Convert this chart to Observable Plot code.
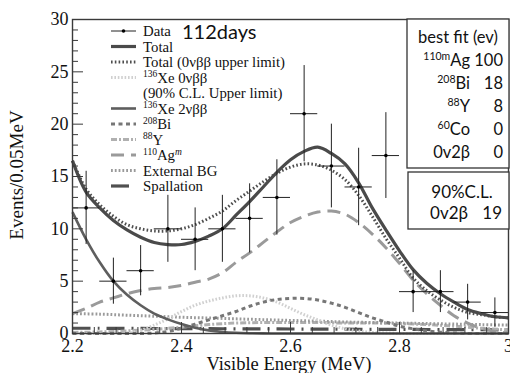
<!DOCTYPE html>
<html><head><meta charset="utf-8">
<script src="https://cdn.jsdelivr.net/npm/d3@7"></script>
<script src="https://cdn.jsdelivr.net/npm/@observablehq/plot@0.6"></script>
<style>
body{margin:0;background:#fff;}
#chart{width:510px;height:373px;}
svg{overflow:visible;}
</style></head><body><div id="chart"></div>
<script>
// ---- data ----
const binCenters = [2.225,2.275,2.325,2.375,2.425,2.475,2.525,2.575,2.625,2.675,2.725,2.775,2.825,2.875,2.925,2.975];
const counts     = [12,5,6,10,9,10,11,13,21,16,14,17,4,4,3,2];
const countErr   = [3.5,2.2,2.4,3.2,3.0,3.2,3.3,3.6,4.6,4.0,3.7,4.1,2.0,2.0,1.7,1.4];
const binHalfWidth = 0.025;

const grid = [2.2,2.225,2.25,2.275,2.3,2.325,2.35,2.375,2.4,2.425,2.45,2.475,2.5,2.525,2.55,2.575,2.6,2.625,2.65,2.675,2.7,2.725,2.75,2.775,2.8,2.825,2.85,2.875,2.9,2.925,2.95,2.975,3.0];
const total   = [16.5,13.5,12.0,10.8,9.9,9.2,8.7,8.5,8.5,8.8,9.3,10.0,11.3,12.6,14.0,15.4,16.6,17.4,17.8,17.2,16.2,14.4,12.0,9.9,7.9,6.1,4.8,3.8,3.0,2.3,1.9,1.6,1.5];
const totalUL = [16.5,13.8,12.3,11.2,10.4,10.0,9.8,9.8,10.0,10.4,11.0,11.7,12.7,13.6,14.5,15.3,15.9,16.2,16.1,15.6,14.7,13.2,11.2,9.1,7.2,5.3,4.1,3.2,2.5,2.0,1.8,1.6,1.5];
const xe0v    = [0,0,0,0,0.05,0.3,0.8,1.4,2.1,2.7,3.1,3.4,3.6,3.6,3.4,3.0,2.4,1.8,1.3,0.8,0.45,0.25,0.1,0.05,0,0,0,0,0,0,0,0,0];
const xe2v    = [11.6,9.0,6.8,5.0,3.7,2.7,1.9,1.35,0.9,0.55,0.3,0.15,0.07,0.03,0.01,0,0,0,0,0,0,0,0,0,0,0,0,0,0,0,0,0,0];
const bi208   = [0,0,0,0,0,0,0.05,0.2,0.5,0.9,1.3,1.7,2.1,2.6,3.0,3.25,3.35,3.35,3.2,2.9,2.5,2.0,1.5,1.1,0.7,0.45,0.25,0.12,0.05,0,0,0,0];
const agm110  = [1.9,2.4,3.0,3.4,3.8,4.1,4.3,4.4,4.6,4.9,5.2,5.8,6.8,7.7,8.7,9.7,10.6,11.2,11.6,11.7,11.4,10.6,9.5,8.2,6.7,5.1,3.8,2.7,1.7,1.0,0.5,0.2,0.05];

const grid05 = [2.2,2.25,2.3,2.35,2.4,2.45,2.5,2.55,2.6,2.65,2.7,2.75,2.8,2.85,2.9,2.95,3.0];
const y88   = [0.1,0.15,0.25,0.4,0.6,0.85,1.0,1.05,1.05,1.05,1.0,1.0,0.95,0.85,0.7,0.5,0.35];
const extBG = [1.9,1.85,1.75,1.65,1.55,1.48,1.4,1.32,1.25,1.18,1.1,1.05,1.0,0.95,0.9,0.85,0.8];
const spall = [0.5,0.5,0.49,0.48,0.47,0.46,0.45,0.44,0.43,0.42,0.41,0.4,0.39,0.38,0.37,0.36,0.35];

const xMajor = [2.2,2.4,2.6,2.8,3.0];
const xMajorLabels = ["2.2","2.4","2.6","2.8","3"];
const xMinor = [2.24,2.28,2.32,2.36,2.44,2.48,2.52,2.56,2.64,2.68,2.72,2.76,2.84,2.88,2.92,2.96];
const yMajor = [0,5,10,15,20,25,30];
const yMinor = [1,2,3,4,6,7,8,9,11,12,13,14,16,17,18,19,21,22,23,24,26,27,28,29];

const fitLabels = [["110m","Ag"],["208","Bi"],["88","Y"],["60","Co"],["","0v2β"]];
const fitValues = ["100","18","8","0","0"];
const clLabel = "0v2β", clValue = "19";

// ---- styles ----
const S = {
  total:  {stroke:"#4a4a4a", strokeWidth:3.2},
  totalUL:{stroke:"#4e4e4e", strokeWidth:3, strokeDasharray:"1.6,2.2"},
  xe0v:   {stroke:"#d0d0d0", strokeWidth:3, strokeDasharray:"1.6,1.8"},
  xe2v:   {stroke:"#5e5e5e", strokeWidth:2.6},
  bi:     {stroke:"#777", strokeWidth:3, strokeDasharray:"4,3.5"},
  y88:    {stroke:"#b0b0b0", strokeWidth:3, strokeDasharray:"6,2,2,2"},
  agm:    {stroke:"#9a9a9a", strokeWidth:3, strokeDasharray:"13,7"},
  ext:    {stroke:"#9a9a9a", strokeWidth:3, strokeDasharray:"1.8,2"},
  spall:  {stroke:"#505050", strokeWidth:3.2, strokeDasharray:"18,7,2,7"}
};

const rows = (xs, ys) => xs.map((x,i)=>({x, y: ys[i]}));
const dataRows = binCenters.map((x,i)=>({x, y:counts[i], lo:counts[i]-countErr[i], hi:counts[i]+countErr[i], xl:x-binHalfWidth, xr:x+binHalfWidth}));
const L = (xs, ys, st) => Plot.line(rows(xs, ys), {x:"x", y:"y", curve:"catmull-rom", strokeLinecap:"butt", ...st});

const serif = "'Liberation Serif','Times New Roman',serif";
const sans = "Lato, 'Open Sans', sans-serif";

const plot = Plot.plot({
  width:510, height:373,
  marginLeft:72, marginRight:2, marginTop:19, marginBottom:40,
  x:{domain:[2.2,3.0]},
  y:{domain:[0,30]},
  style:{fontFamily:serif, fontSize:"18px", color:"#111", background:"#fff"},
  marks:[
    L(grid05, spall, S.spall),
    L(grid05, y88, S.y88),
    L(grid05, extBG, S.ext),
    L(grid, xe0v, S.xe0v),
    L(grid, bi208, S.bi),
    L(grid, agm110, S.agm),
    L(grid, xe2v, S.xe2v),
    L(grid, totalUL, S.totalUL),
    L(grid, total, S.total),
    Plot.ruleX(dataRows, {x:"x", y1:"lo", y2:"hi", stroke:"#222", strokeWidth:1}),
    Plot.ruleY(dataRows, {y:"y", x1:"xl", x2:"xr", stroke:"#222", strokeWidth:1}),
    Plot.dot(dataRows, {x:"x", y:"y", r:1.8, fill:"#000", stroke:null}),
    Plot.frame({stroke:"#3a3a3a", strokeWidth:1.4}),
    Plot.axisX({ticks:xMajor, tickSize:-11, tickPadding:17, tickFormat:(d,i)=>xMajorLabels[i], label:null, stroke:"#3a3a3a"}),
    Plot.axisX({ticks:xMinor, tickSize:-6, tickFormat:()=>"", label:null, stroke:"#3a3a3a"}),
    Plot.axisY({ticks:yMajor, tickSize:-11, tickPadding:15, label:null, stroke:"#3a3a3a"}),
    Plot.axisY({ticks:yMinor, tickSize:-6, tickFormat:()=>"", label:null, stroke:"#3a3a3a"})
  ]
});
document.getElementById("chart").appendChild(plot);

// ---- overlays: axis titles, legend, text boxes ----
const svg = d3.select(plot);
const g = svg.append("g").attr("text-anchor","start").attr("fill","#111");

// rich text helper: parts = [{t, sup, it}]
function rich(sel, parts, supSize, rise) {
  let pending = 0;
  parts.forEach(p => {
    const ts = sel.append("tspan");
    if (p.sup) {
      ts.attr("font-size", supSize).attr("dy", pending - rise);
      pending = rise;
    } else {
      ts.attr("dy", pending);
      pending = 0;
    }
    if (p.it) ts.attr("font-style","italic");
    ts.text(p.t);
  });
}

g.append("text").attr("transform","translate(23,175) rotate(-90)")
  .attr("text-anchor","middle").attr("font-family",serif).attr("font-size",19)
  .text("Events/0.05MeV");
g.append("text").attr("x",289).attr("y",369.5)
  .attr("text-anchor","middle").attr("font-family",serif).attr("font-size",18.5)
  .text("Visible Energy (MeV)");

// legend
const legendItems = [
  {parts:[{t:"Data"}], st:{stroke:"#222", strokeWidth:1}, dot:true},
  {parts:[{t:"Total"}], st:S.total},
  {parts:[{t:"Total (0νββ upper limit)"}], st:S.totalUL},
  {parts:[{t:"136",sup:true},{t:"Xe 0νββ"}], st:S.xe0v},
  {parts:[{t:"(90% C.L. Upper limit)"}], st:null},
  {parts:[{t:"136",sup:true},{t:"Xe 2νββ"}], st:S.xe2v},
  {parts:[{t:"208",sup:true},{t:"Bi"}], st:S.bi},
  {parts:[{t:"88",sup:true},{t:"Y"}], st:S.y88},
  {parts:[{t:"110",sup:true},{t:"Ag"},{t:"m",sup:true,it:true}], st:S.agm},
  {parts:[{t:"External BG"}], st:S.ext},
  {parts:[{t:"Spallation"}], st:S.spall}
];
const lg = g.append("g");
legendItems.forEach((it, i) => {
  const cy = 31 + i*15.5;
  if (it.st) {
    lg.append("line").attr("x1",111).attr("x2",136).attr("y1",cy).attr("y2",cy)
      .attr("stroke",it.st.stroke).attr("stroke-width",it.st.strokeWidth)
      .attr("stroke-dasharray",it.st.strokeDasharray||null);
  }
  if (it.dot) lg.append("circle").attr("cx",123.5).attr("cy",cy).attr("r",1.8).attr("fill","#000");
  const t = lg.append("text").attr("x",143).attr("y",cy+5).attr("font-family",serif)
    .attr("font-size",14.8);
  rich(t, it.parts, 9.5, 5.5);
});

g.append("text").attr("x",182).attr("y",39).attr("font-family",sans).attr("font-size",20)
  .text("112days");

// best-fit box
g.append("rect").attr("x",407).attr("y",19).attr("width",102).attr("height",149)
  .attr("fill","#fff").attr("stroke","#333").attr("stroke-width",1.3);
g.append("text").attr("x",458).attr("y",43).attr("text-anchor","middle").attr("font-family",sans)
  .attr("font-size",16.5).text("best fit (ev)");
fitLabels.forEach(([sup, lab], i) => {
  const by = 66 + i*23;
  const t = g.append("text").attr("x",470).attr("y",by).attr("text-anchor","end")
    .attr("font-family",sans).attr("font-size",16.5);
  const parts = sup ? [{t:sup,sup:true},{t:lab}] : [{t:lab}];
  rich(t, parts, 10.5, 6);
  g.append("text").attr("x",503).attr("y",by).attr("text-anchor","end")
    .attr("font-family",sans).attr("font-size",16.5).text(fitValues[i]);
});

// 90% CL box
g.append("rect").attr("x",408).attr("y",172).attr("width",101).attr("height",57)
  .attr("fill","#fff").attr("stroke","#333").attr("stroke-width",1.3);
g.append("text").attr("x",462).attr("y",198).attr("text-anchor","middle").attr("font-family",sans)
  .attr("font-size",17).text("90%C.L.");
g.append("text").attr("x",468).attr("y",219).attr("text-anchor","end").attr("font-family",sans)
  .attr("font-size",17).text(clLabel);
g.append("text").attr("x",502).attr("y",219).attr("text-anchor","end").attr("font-family",sans)
  .attr("font-size",17).text(clValue);
</script>
</body></html>
